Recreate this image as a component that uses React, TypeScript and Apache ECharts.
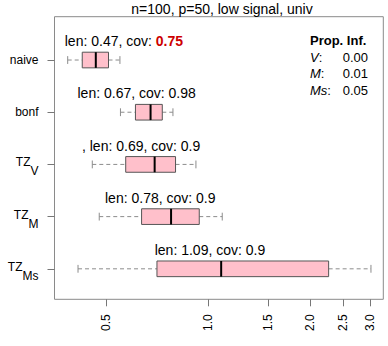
import React, { useEffect, useRef } from "react";
import * as echarts from "echarts";

const categories = ["naive", "bonf", "TZ_V", "TZ_M", "TZ_Ms"];
const lowWhisker = [0.385, 0.551, 0.455, 0.477, 0.413];
const q1 = [0.425, 0.61, 0.571, 0.636, 0.706];
const median = [0.466, 0.676, 0.695, 0.777, 1.092];
const q3 = [0.508, 0.732, 0.801, 0.941, 2.266];
const highWhisker = [0.549, 0.787, 0.92, 1.1, 3.021];
const lenLabels = [0.47, 0.67, 0.69, 0.78, 1.09];
const covLabels = [0.75, 0.98, 0.9, 0.9, 0.9];
const labelPrefix = ["", "", ", ", "", ""];
const labelCenters = [0.564, 0.615, 0.634, 0.722, 1.012];
const xTicks = [0.5, 1.0, 1.5, 2.0, 2.5, 3.0];
const xRange = [0.352, 3.285];
const propInfNames = ["V", "M", "Ms"];
const propInfValues = ["0.00", "0.01", "0.05"];
const title = "n=100, p=50, low signal, univ";

const FONT = "'Liberation Sans', Arial, Helvetica, sans-serif";
const lg = (v: number) => Math.log2(v);

export default function App() {
  const ref = useRef<HTMLDivElement>(null);
  useEffect(() => {
    document.body.style.margin = "0";
    if (!ref.current) return;
    const chart = echarts.init(ref.current, undefined, { renderer: "svg" });
    const n = categories.length;
    const pos = (i: number) => n - i;

    const boxData = categories.map((_, i) => [
      pos(i),
      lg(lowWhisker[i]),
      lg(q1[i]),
      lg(median[i]),
      lg(q3[i]),
      lg(highWhisker[i]),
      lg(labelCenters[i]),
      i,
    ]);

    const yLabel = (v: number) => {
      const idx = n - Math.round(v);
      const name = categories[idx];
      if (!name) return "";
      const parts = name.split("_");
      if (parts.length === 1) return `{m|${parts[0]}}`;
      return `{a|${parts[0]}}{s|${parts[1]}}`;
    };

    const option: any = {
      animation: false,
      textStyle: { fontFamily: FONT },
      grid: {
        left: 54.5,
        right: 4.7,
        top: 16.7,
        bottom: 46.7,
        show: true,
        borderColor: "#8a8a8a",
        borderWidth: 1,
        backgroundColor: "transparent",
      },
      xAxis: {
        type: "value",
        min: lg(xRange[0]),
        max: lg(xRange[1]),
        axisLine: { show: false, onZero: false },
        splitLine: { show: false },
        axisTick: {
          show: true,
          length: 7,
          customValues: xTicks.map(lg),
          lineStyle: { color: "#777" },
        },
        axisLabel: {
          customValues: xTicks.map(lg),
          rotate: 90,
          margin: 15,
          fontSize: 12,
          fontFamily: FONT,
          color: "#000",
          formatter: (v: number) => Math.pow(2, v).toFixed(1),
        },
      },
      yAxis: {
        type: "value",
        min: 0.416,
        max: 5.83,
        axisLine: { show: false, onZero: false },
        splitLine: { show: false },
        axisTick: {
          show: true,
          length: 7,
          customValues: categories.map((_, i) => pos(i)),
          lineStyle: { color: "#777" },
        },
        axisLabel: {
          customValues: categories.map((_, i) => pos(i)),
          margin: 16,
          color: "#000",
          fontFamily: FONT,
          formatter: yLabel,
          rich: {
            m: { fontSize: 12, fontFamily: FONT, color: "#000" },
            a: { fontSize: 12, fontFamily: FONT, color: "#000", padding: [0, 0, 4, 0] },
            s: { fontSize: 12, fontFamily: FONT, color: "#000", padding: [14, 0, 0, 0] },
          },
        },
      },
      series: [
        {
          type: "custom",
          data: boxData,
          encode: { x: [1, 2, 3, 4, 5, 6], y: 0 },
          renderItem: (params: any, api: any) => {
            const y = api.value(0);
            const idx = api.value(7);
            const pLo = api.coord([api.value(1), y]);
            const pQ1 = api.coord([api.value(2), y]);
            const pMed = api.coord([api.value(3), y]);
            const pQ3 = api.coord([api.value(4), y]);
            const pHi = api.coord([api.value(5), y]);
            const pLab = api.coord([api.value(6), y]);
            const bh = api.size([0, 0.3])[1];
            const off = api.size([0, 0.36])[1];
            const ch = bh / 2;
            const cy = pMed[1];
            const whisk = { stroke: "#8c8c8c", lineWidth: 1, lineDash: [4, 3] };
            const cap = { stroke: "#8c8c8c", lineWidth: 1 };
            const cov = covLabels[idx];
            const low = cov < 0.85;
            const text = `{t|${labelPrefix[idx]}len: ${lenLabels[idx]}, cov: }{${low ? "r" : "t"}|${cov}}`;
            return {
              type: "group",
              children: [
                { type: "line", shape: { x1: pLo[0], y1: cy, x2: pQ1[0], y2: cy }, style: whisk },
                { type: "line", shape: { x1: pQ3[0], y1: cy, x2: pHi[0], y2: cy }, style: whisk },
                { type: "line", shape: { x1: pLo[0], y1: cy - ch / 2, x2: pLo[0], y2: cy + ch / 2 }, style: cap },
                { type: "line", shape: { x1: pHi[0], y1: cy - ch / 2, x2: pHi[0], y2: cy + ch / 2 }, style: cap },
                {
                  type: "rect",
                  shape: { x: pQ1[0], y: cy - bh / 2, width: pQ3[0] - pQ1[0], height: bh },
                  style: { fill: "#ffc0cb", stroke: "#555", lineWidth: 1 },
                },
                {
                  type: "line",
                  shape: { x1: pMed[0], y1: cy - bh / 2, x2: pMed[0], y2: cy + bh / 2 },
                  style: { stroke: "#000", lineWidth: 2 },
                },
                {
                  type: "text",
                  x: pLab[0],
                  y: cy - off,
                  style: {
                    text,
                    align: "center",
                    verticalAlign: "middle",
                    rich: {
                      t: { fontSize: 14, fontFamily: FONT, fill: "#000" },
                      r: { fontSize: 14, fontFamily: FONT, fontWeight: "bold", fill: "#cd0000" },
                    },
                  },
                },
              ],
            };
          },
        },
      ],
      graphic: [
        {
          type: "text",
          x: 222,
          y: 9,
          style: {
            text: title,
            font: `14px ${FONT}`,
            fill: "#000",
            align: "center",
            verticalAlign: "middle",
          },
        },
        {
          type: "text",
          x: 310,
          y: 40.7,
          style: {
            text: "Prop. Inf.",
            font: `bold 13px ${FONT}`,
            fill: "#000",
            align: "left",
            verticalAlign: "middle",
          },
        },
        ...propInfNames.flatMap((name, i) => [
          {
            type: "text",
            x: 310,
            y: 57 + i * 16.6,
            style: {
              text: `{i|${name}}{c|:}`,
              align: "left",
              verticalAlign: "middle",
              rich: {
                i: { fontSize: 13, fontStyle: "italic", fontFamily: FONT, fill: "#000" },
                c: { fontSize: 13, fontFamily: FONT, fill: "#000" },
              },
            },
          },
          {
            type: "text",
            x: 368,
            y: 57 + i * 16.6,
            style: {
              text: propInfValues[i],
              font: `13px ${FONT}`,
              fill: "#000",
              align: "right",
              verticalAlign: "middle",
            },
          },
        ]),
      ],
    };
    chart.setOption(option);
    return () => chart.dispose();
  }, []);
  return <div ref={ref} style={{ width: 388, height: 346 }} />;
}
